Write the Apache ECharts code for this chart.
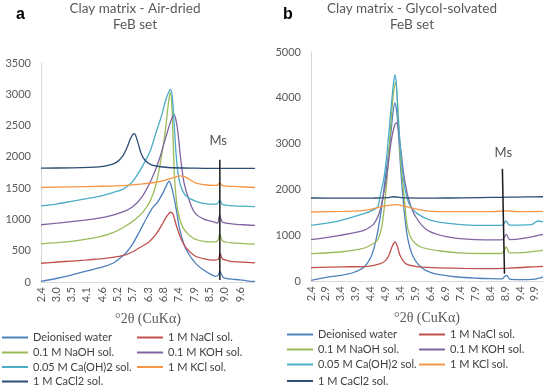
<!DOCTYPE html>
<html>
<head>
<meta charset="utf-8">
<script src="https://cdn.jsdelivr.net/npm/echarts@6/dist/echarts.min.js"></script>
<style>html,body{margin:0;padding:0;background:#fff}#c{width:550px;height:385px}</style>
</head>
<body>
<div id="c"></div>
<script>
// ---------- names ----------
const seriesNames = ['Deionised water','1 M NaCl sol.','0.1 M NaOH sol.','0.1 M KOH sol.','0.05 M Ca(OH)2 sol.','1 M KCl sol.','1 M CaCl2 sol.'];
const seriesColors = ['#4F81BD','#C0504D','#9BBB59','#8064A2','#4BACC6','#F79646','#2C4D75'];

// ---------- tick labels ----------
const xTicksA = [2.4, 2.953, 3.506, 4.058, 4.611, 5.164, 5.717, 6.270, 6.822, 7.375, 7.928, 8.481, 9.034, 9.587];
const xTicksB = [2.4, 2.9, 3.4, 3.9, 4.4, 4.9, 5.4, 5.9, 6.4, 6.9, 7.4, 7.9, 8.4, 8.9, 9.4, 9.9];
const yTicksA = [0, 500, 1000, 1500, 2000, 2500, 3000, 3500];
const yTicksB = [0, 1000, 2000, 3000, 4000, 5000];

// ---------- panel a : Air-dried  [°2θ, counts] ----------
const aDeionised = [[2.4,10],[3.0,60],[3.5,110],[4.0,170],[4.5,225],[5.0,300],[5.34,410],[5.5,480],[5.7,600],[5.95,800],[6.25,1050],[6.45,1200],[6.6,1270],[6.8,1420],[6.95,1560],[7.02,1610],[7.08,1570],[7.17,1420],[7.29,1150],[7.41,840],[7.59,570],[7.75,440],[7.89,350],[8.05,270],[8.26,195],[8.5,130],[8.7,90],[8.8,110],[8.86,175],[8.92,120],[9.0,65],[9.3,45],[9.6,35],[9.9,15],[10.13,10]];
const aNaCl = [[2.4,300],[3.0,320],[3.5,335],[4.0,350],[4.5,370],[5.0,395],[5.35,420],[5.7,480],[5.95,545],[6.3,640],[6.55,760],[6.75,900],[6.9,1020],[7.02,1095],[7.1,1115],[7.18,1070],[7.29,900],[7.47,680],[7.65,540],[7.95,420],[8.3,370],[8.6,350],[8.8,360],[8.87,460],[8.95,370],[9.2,335],[9.6,320],[10.13,305]];
const aNaOH = [[2.4,610],[3.0,630],[3.5,650],[4.0,680],[4.5,720],[5.0,790],[5.4,880],[5.8,1000],[6.1,1130],[6.35,1300],[6.55,1550],[6.75,2000],[6.9,2450],[7.0,2850],[7.07,3030],[7.13,2800],[7.17,2300],[7.22,1700],[7.28,1350],[7.35,1120],[7.45,950],[7.6,820],[7.9,700],[8.3,650],[8.7,640],[8.8,680],[8.86,770],[8.95,660],[9.3,625],[10.13,605]];
const aKOH = [[2.4,915],[3.0,940],[3.5,965],[4.0,990],[4.5,1020],[5.0,1070],[5.35,1120],[5.7,1200],[6.05,1360],[6.4,1650],[6.65,1930],[6.9,2300],[7.08,2560],[7.2,2680],[7.27,2600],[7.35,2380],[7.45,1950],[7.57,1580],[7.75,1310],[7.95,1110],[8.3,1000],[8.65,960],[8.78,940],[8.85,1070],[8.95,960],[9.3,930],[9.7,915],[10.13,905]];
const aCaOH2 = [[2.4,1215],[3.0,1250],[3.5,1290],[4.0,1330],[4.5,1370],[5.0,1430],[5.35,1480],[5.7,1600],[6.05,1840],[6.35,2100],[6.55,2380],[6.75,2650],[6.9,2900],[7.0,3020],[7.07,3080],[7.13,3000],[7.18,2750],[7.25,2230],[7.33,1800],[7.45,1530],[7.65,1370],[8.0,1290],[8.4,1250],[8.75,1245],[8.86,1310],[8.95,1240],[9.4,1215],[10.13,1205]];
const aKCl = [[2.4,1510],[3.5,1520],[4.5,1530],[5.5,1545],[6.0,1565],[6.5,1590],[6.9,1630],[7.2,1670],[7.4,1695],[7.6,1680],[7.8,1630],[8.0,1580],[8.4,1550],[8.75,1545],[8.86,1585],[8.95,1540],[9.5,1525],[10.13,1510]];
const aCaCl2 = [[2.4,1820],[3.5,1825],[4.5,1840],[4.9,1870],[5.15,1920],[5.35,2010],[5.5,2140],[5.62,2280],[5.72,2360],[5.77,2370],[5.83,2330],[5.92,2200],[6.02,2050],[6.15,1950],[6.35,1880],[6.6,1850],[7.0,1830],[8.0,1820],[8.84,1815],[10.13,1815]];
const aMsLine = [[8.86,1955],[8.86,30]];
const aMsLabel = [[8.8,2260]];

// ---------- panel b : Glycol-solvated ----------
const bDeionised = [[2.4,15],[3.0,90],[3.4,124],[3.8,180],[4.17,300],[4.39,500],[4.56,850],[4.73,1450],[4.9,2300],[5.04,3000],[5.14,3650],[5.21,3890],[5.26,3750],[5.31,3436],[5.4,2489],[5.52,1543],[5.63,961],[5.8,561],[6.08,306],[6.53,161],[7.31,87],[8.0,60],[8.44,50],[8.8,45],[8.9,110],[8.96,124],[9.05,40],[9.4,30],[9.8,35],[10.17,87]];
const bNaCl = [[2.4,293],[3.5,310],[4.3,320],[4.73,379],[4.9,450],[5.01,561],[5.12,760],[5.22,852],[5.3,740],[5.38,561],[5.57,379],[5.9,320],[6.5,290],[7.5,275],[8.5,270],[9.0,280],[9.6,300],[10.17,320]];
const bNaOH = [[2.4,598],[3.38,633],[4.0,690],[4.28,742],[4.62,888],[4.72,1050],[4.79,1253],[4.87,1700],[4.95,2270],[5.09,3580],[5.17,4150],[5.24,4345],[5.32,3580],[5.4,2635],[5.52,1834],[5.63,1179],[5.8,888],[6.08,742],[6.75,655],[7.5,610],[8.4,600],[8.8,605],[8.94,742],[9.05,615],[9.5,620],[10.17,670]];
const bKOH = [[2.4,904],[3.38,998],[4.17,1107],[4.51,1253],[4.73,1580],[4.93,2270],[5.09,3071],[5.2,3400],[5.27,3458],[5.38,3000],[5.52,2270],[5.68,1762],[5.91,1397],[6.3,1107],[6.98,961],[7.88,904],[8.8,900],[8.94,1020],[9.05,904],[9.5,930],[10.17,1020]];
const bCaOH2 = [[2.4,1216],[3.27,1303],[4.17,1471],[4.51,1560],[4.64,1620],[4.73,1900],[4.84,2236],[4.95,2816],[5.09,3836],[5.16,4300],[5.21,4506],[5.26,4300],[5.31,3727],[5.4,2853],[5.52,2126],[5.68,1690],[5.96,1471],[6.42,1325],[7.09,1253],[7.88,1216],[8.8,1216],[8.93,1310],[9.05,1220],[9.78,1230],[10.0,1310],[10.17,1290]];
const bKCl = [[2.4,1507],[3.5,1520],[4.2,1540],[4.73,1616],[5.0,1650],[5.24,1668],[5.5,1640],[5.85,1580],[6.4,1520],[7.5,1515],[8.5,1515],[8.93,1530],[9.3,1515],[10.17,1520]];
const bCaCl2 = [[2.4,1812],[3.5,1808],[4.5,1812],[5.0,1820],[5.15,1840],[5.3,1830],[5.6,1815],[6.5,1810],[7.5,1815],[8.5,1825],[9.0,1830],[9.6,1835],[10.17,1840]];
const bMsLine = [[8.81,2450],[8.88,160]];
const bMsLabel = [[8.84,2800]];

const panelA = [aDeionised,aNaCl,aNaOH,aKOH,aCaOH2,aKCl,aCaCl2];
const panelB = [bDeionised,bNaCl,bNaOH,bKOH,bCaOH2,bKCl,bCaCl2];

const FONT = 'Lato';
const GRAY = '#595959';

function xAxisOf(grid, max, ticks){
  return {type:'value', gridIndex:grid, min:2.4, max:max,
    name:'°2θ (CuKα)', nameLocation:'middle', nameGap:30,
    nameTextStyle:{fontFamily:'Liberation Serif', fontSize:14, color:GRAY},
    axisLine:{show:true, lineStyle:{color:'#d9d9d9', width:1}},
    axisTick:{show:false}, splitLine:{show:false},
    axisLabel:{rotate:90, margin:5, fontFamily:FONT, fontSize:11, color:GRAY,
      customValues:ticks, formatter:v=>v.toFixed(1)}};
}
function yAxisOf(grid, ticks){
  return {type:'value', gridIndex:grid, min:ticks[0], max:ticks[ticks.length-1], interval:ticks[1]-ticks[0],
    axisLine:{show:true, lineStyle:{color:'#d9d9d9', width:1}},
    axisTick:{show:false}, splitLine:{show:false},
    axisLabel:{margin:10, fontFamily:FONT, fontSize:11, color:GRAY, formatter:v=>String(v)}};
}

const series = [];
[panelA, panelB].forEach((panel, p) => {
  panel.forEach((d, i) => {
    series.push({type:'line', name:seriesNames[i], xAxisIndex:p, yAxisIndex:p, data:d,
      showSymbol:false, symbol:'none', smooth:0.25, z:2+i,
      lineStyle:{width:1.3, color:seriesColors[i]}, itemStyle:{color:seriesColors[i]}});
  });
  series.push({type:'line', name:'Ms', xAxisIndex:p, yAxisIndex:p, data:[aMsLine,bMsLine][p],
    showSymbol:false, symbol:'none', z:20, lineStyle:{width:1.5, color:'#1a1a1a'}});
  series.push({type:'scatter', name:'MsLabel', xAxisIndex:p, yAxisIndex:p, data:[aMsLabel,bMsLabel][p],
    symbolSize:0, z:20, label:{show:true, position:'inside', formatter:'Ms', fontFamily:FONT, fontSize:13, color:'#262626'}});
});

// legends: one per item, laid out in two columns
const legendCols = [[2, 137], [287, 419]];
const legendRowsTop = [[332, 347, 361.5, 376], [329, 344, 359, 375.5]];
const legends = [];
[0,1].forEach(p => {
  seriesNames.forEach((n, i) => {
    const col = i % 2, row = Math.floor(i / 2);
    legends.push({data:[n], left:legendCols[p][col], top:legendRowsTop[p][row], padding:0,
      icon:'rect', itemWidth:26, itemHeight:2, selectedMode:false,
      textStyle:{fontFamily:FONT, fontSize:11, color:'#404040'}});
  });
});

const chart = echarts.init(document.getElementById('c'), null, {renderer:'canvas'});
chart.setOption({
  animation:false,
  backgroundColor:'#fff',
  title:[
    {text:'a', left:16, top:7, padding:0, textStyle:{fontFamily:'Liberation Sans', fontSize:16, fontWeight:'bold', color:'#000'}},
    {text:'Clay matrix - Air-dried\nFeB set', left:135, textAlign:'center', top:1, padding:0,
      textStyle:{fontFamily:FONT, fontSize:13.5, fontWeight:'normal', color:GRAY, lineHeight:16}},
    {text:'b', left:283, top:7, padding:0, textStyle:{fontFamily:'Liberation Sans', fontSize:16, fontWeight:'bold', color:'#000'}},
    {text:'Clay matrix - Glycol-solvated\nFeB set', left:412, textAlign:'center', top:1, padding:0,
      textStyle:{fontFamily:FONT, fontSize:13.5, fontWeight:'normal', color:GRAY, lineHeight:16}}
  ],
  grid:[
    {left:41, right:295, top:63, bottom:103},
    {left:311, right:7, top:52, bottom:104}
  ],
  xAxis:[xAxisOf(0, 10.13, xTicksA), xAxisOf(1, 10.17, xTicksB)],
  yAxis:[yAxisOf(0, yTicksA), yAxisOf(1, yTicksB)],
  legend:legends,
  series:series
});
</script>
</body>
</html>
